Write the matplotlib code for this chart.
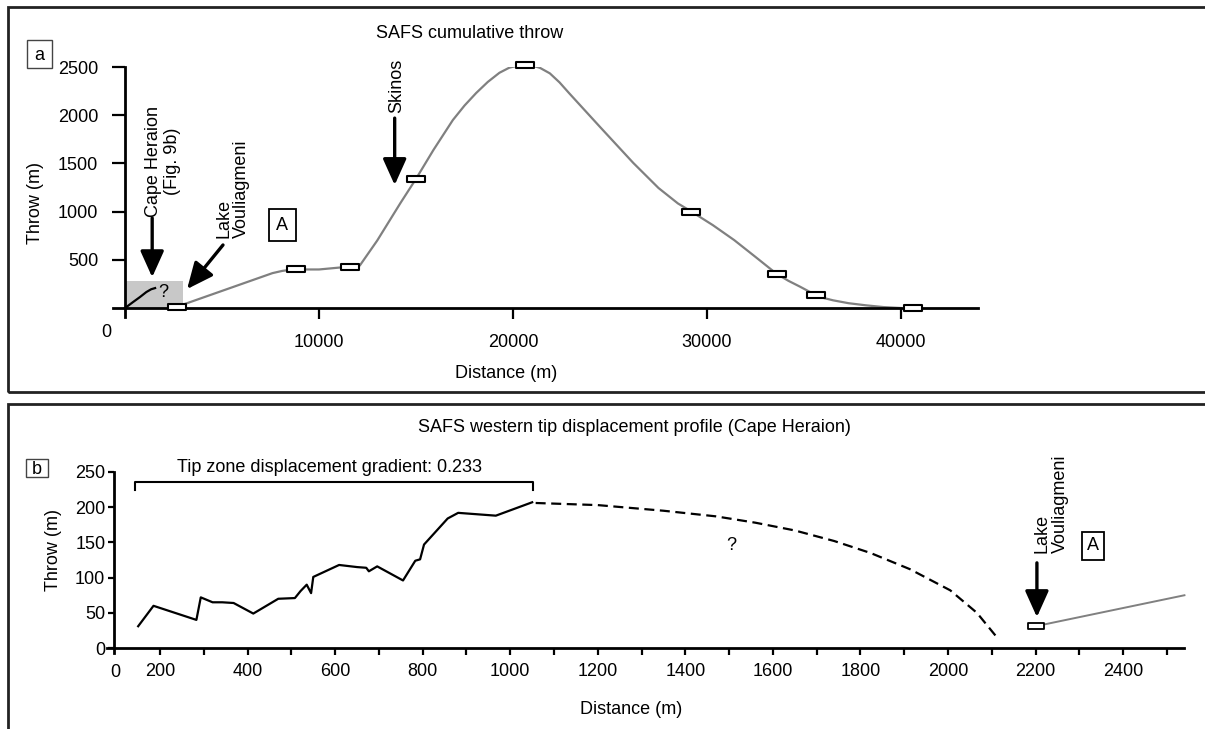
import matplotlib
matplotlib.use('Agg')
import matplotlib.pyplot as plt
from matplotlib.patches import Rectangle
from matplotlib.path import Path

# ---- panel a: SAFS cumulative throw ----
a_marker_x = [2700, 8800, 11600, 15000, 20600, 29200, 33600, 35600, 40600]
a_marker_y = [15, 400, 430, 1340, 2520, 1000, 350, 135, 0]
a_curve_x = [2700, 7600, 8100, 8500, 8800, 10000, 11600, 12100, 13000, 14200, 15000,
             15900, 16900, 17500, 18100, 18700, 19300, 19800, 20300, 20600, 21000,
             21400, 21900, 22400, 22900, 24500, 26200, 27500, 28500, 29200, 30300,
             31400, 32500, 33600, 34200, 34800, 35600, 36000, 36500, 37300, 38200,
             39100, 40000]
a_curve_y = [15, 362, 385, 396, 400, 400, 430, 440, 700, 1090, 1340,
             1640, 1950, 2100, 2230, 2345, 2440, 2492, 2518, 2522, 2515,
             2490, 2434, 2340, 2227, 1875, 1505, 1245, 1085, 1000, 860,
             705, 530, 353, 282, 221, 135, 105, 80, 50, 28,
             10, 0]
cape_x = [0, 400, 770, 1100, 1350, 1550]
cape_y = [0, 60, 114, 166, 195, 207]
cape_zone = (0, 3000, 280)  # x0, x1, top
a_xticks = [10000, 20000, 30000, 40000]
a_yticks = [500, 1000, 1500, 2000, 2500]

# ---- panel b: western tip displacement profile ----
b_x = [150, 185, 283, 293, 320, 342, 368, 413, 470, 508, 521, 535, 545, 550,
       609, 650, 671, 677, 696, 755, 783, 794, 803, 857, 881, 967, 1050]
b_y = [31, 60, 40, 72, 65, 65, 64, 49, 70, 71, 81, 90, 78, 101,
       118, 115, 114, 109, 116, 96, 124, 126, 147, 184, 192, 188, 207]
b_dash_x = [1058, 1200, 1350, 1470, 1560, 1650, 1740, 1823, 1913, 2005, 2066, 2112]
b_dash_y = [206, 203, 195, 187, 178, 167, 152, 135, 112, 82, 50, 15]
b_lake_x = [2200, 2540]
b_lake_y = [31, 75]
b_major = [200, 400, 600, 800, 1000, 1200, 1400, 1600, 1800, 2000, 2200, 2400]
b_minor = [300, 500, 700, 900, 1100, 1300, 1500, 1700, 1900, 2100, 2300, 2500]
b_yticks = [0, 50, 100, 150, 200, 250]
bracket_x = (142, 1052)
bracket_y = (224, 236)

plt.rcParams['font.family'] = ['Liberation Sans', 'DejaVu Sans']
plt.rcParams['font.size'] = 13
FS = 13

W, H = 1205, 729
fig = plt.figure(figsize=(W / 100, H / 100), dpi=100)


def px_axes(l, t, r, b):
    return fig.add_axes([l / W, 1 - b / H, (r - l) / W, (b - t) / H])


def ftext(x, y, s, **kw):
    fig.text(x / W, 1 - y / H, s, ha='center', va='center', **kw)


def fbox(l, t, r, b, s):
    fig.add_artist(Rectangle((l / W, 1 - b / H), (r - l) / W, (b - t) / H,
                             transform=fig.transFigure, fill=False, lw=1.0, ec='#444444'))
    ftext((l + r) / 2, (t + b) / 2 + 1, s, fontsize=FS)


box_marker = Path([(-1.4, -0.5), (1.4, -0.5), (1.4, 0.5), (-1.4, 0.5), (-1.4, -0.5)],
                  [Path.MOVETO, Path.LINETO, Path.LINETO, Path.LINETO, Path.CLOSEPOLY])
arrow_props = dict(arrowstyle='-|>,head_length=0.8,head_width=0.36', mutation_scale=20,
                   color='black', lw=2.4, shrinkA=0, shrinkB=0)

# panel frames
fig.add_artist(Rectangle((8 / W, 1 - 392 / H), 1.1, 385 / H, transform=fig.transFigure,
                         fill=False, lw=2, ec='#222222'))
fig.add_artist(Rectangle((8 / W, -0.1), 1.1, 0.1 + 1 - 404 / H, transform=fig.transFigure,
                         fill=False, lw=2, ec='#222222'))

# ---------------- panel a ----------------
ax = px_axes(113, 67, 978, 317)
ax.set_xlim(-620, 43970)
ax.set_ylim(-93, 2500)
for s in ['top', 'right']:
    ax.spines[s].set_visible(False)
ax.spines['left'].set_position(('data', 0))
ax.spines['bottom'].set_position(('data', 0))
for s in ['left', 'bottom']:
    ax.spines[s].set_linewidth(2)
ax.set_xticks(a_xticks)
ax.set_xticklabels([str(v) for v in a_xticks])
ax.set_yticks(a_yticks)
ax.set_yticklabels([str(v) for v in a_yticks])
ax.tick_params(axis='x', direction='out', length=8, width=1.6, pad=11, labelsize=FS)
ax.tick_params(axis='y', direction='out', length=9.4, width=1.6, pad=10, labelsize=FS)
ax.patch.set_alpha(0)

ax.add_patch(Rectangle((cape_zone[0], 0), cape_zone[1] - cape_zone[0], cape_zone[2],
                       fc='#c8c8c8', ec='none', zorder=1))
ax.plot(a_curve_x, a_curve_y, color='#808080', lw=1.6, zorder=2)
ax.plot(cape_x, cape_y, color='black', lw=1.6, zorder=3)
ax.plot(a_marker_x, a_marker_y, ls='none', marker=box_marker, ms=12.8, mfc='white',
        mec='black', mew=1.5, zorder=4, clip_on=False)
ax.text(1960, 156, '?', ha='center', va='center', fontsize=FS)
ax.annotate('0', xy=(0, 0), xytext=(-19, -24), textcoords='offset pixels',
            ha='center', va='center', fontsize=FS)

ax.annotate('', xy=(1400, 320), xytext=(1400, 934), arrowprops=arrow_props)
ax.text(1950, 944, 'Cape Heraion\n(Fig. 9b)', rotation=90, ha='center', va='bottom',
        multialignment='center', fontsize=FS, linespacing=1.1)
ax.annotate('', xy=(3200, 197), xytext=(5050, 654), arrowprops=arrow_props)
ax.text(5550, 726, 'Lake\nVouliagmeni', rotation=90, ha='center', va='bottom',
        multialignment='left', fontsize=FS, linespacing=1.1)
ax.annotate('', xy=(13900, 1276), xytext=(13900, 1970), arrowprops=arrow_props)
ax.text(14000, 2023, 'Skinos', rotation=90, ha='center', va='bottom', fontsize=FS)
ax.text(8100, 860, 'A', ha='center', va='center', fontsize=FS,
        bbox=dict(boxstyle='square,pad=0.42', fc='white', ec='black', lw=1.3))

ftext(470, 33, 'SAFS cumulative throw', fontsize=FS)
ftext(36, 203, 'Throw (m)', rotation=90, fontsize=FS)
ftext(506, 373, 'Distance (m)', fontsize=FS)
fbox(27, 40, 52, 68, 'a')

# ---------------- panel b ----------------
bx = px_axes(107, 472, 1184, 653)
bx.set_xlim(78.8, 2539)
bx.set_ylim(-7, 250)
for s in ['top', 'right']:
    bx.spines[s].set_visible(False)
bx.spines['left'].set_position(('data', 95))
bx.spines['bottom'].set_position(('data', 0))
for s in ['left', 'bottom']:
    bx.spines[s].set_linewidth(2)
bx.set_xticks(b_major)
bx.set_xticklabels([str(v) for v in b_major])
bx.set_xticks(b_minor, minor=True)
bx.set_yticks(b_yticks)
bx.set_yticklabels([str(v) for v in b_yticks])
bx.tick_params(axis='x', which='both', direction='out', length=5, width=1.6, pad=6,
               labelsize=FS)
bx.tick_params(axis='y', direction='out', length=4.3, width=1.6, pad=2, labelsize=FS)
bx.patch.set_alpha(0)

bx.plot(b_x, b_y, color='black', lw=1.6)
bx.plot(b_dash_x, b_dash_y, color='black', lw=1.6, ls=(0, (4.5, 2.5)))
bx.plot(b_lake_x, b_lake_y, color='#808080', lw=1.4, clip_on=False)
bx.plot(b_lake_x[:1], b_lake_y[:1], ls='none', marker=box_marker, ms=11.5, mfc='white',
        mec='black', mew=1.3, zorder=4)
bx.text(1505, 146, '?', ha='center', va='center', fontsize=FS)
bx.annotate('0', xy=(95, 0), xytext=(1, -24), textcoords='offset pixels',
            ha='center', va='center', fontsize=FS, annotation_clip=False)

bx.plot([bracket_x[0], bracket_x[0], bracket_x[1], bracket_x[1]],
        [bracket_y[0], bracket_y[1], bracket_y[1], bracket_y[0]],
        color='black', lw=1.5, clip_on=False)
bx.text(587, 257, 'Tip zone displacement gradient: 0.233', ha='center', va='center',
        fontsize=FS, clip_on=False)

bx.annotate('', xy=(2203, 44), xytext=(2203, 121), arrowprops=arrow_props)
bx.text(2236, 135, 'Lake\nVouliagmeni', rotation=90, ha='center', va='bottom',
        multialignment='left', fontsize=FS, linespacing=1.1)
bx.text(2332, 145, 'A', ha='center', va='center', fontsize=FS,
        bbox=dict(boxstyle='square,pad=0.28', fc='white', ec='black', lw=1.3))

ftext(634, 428, 'SAFS western tip displacement profile (Cape Heraion)', fontsize=FS)
ftext(54, 550, 'Throw (m)', rotation=90, fontsize=FS)
ftext(631, 709, 'Distance (m)', fontsize=FS)
fbox(26, 459, 48, 477, 'b')

fig.savefig('out.png', dpi=100)
